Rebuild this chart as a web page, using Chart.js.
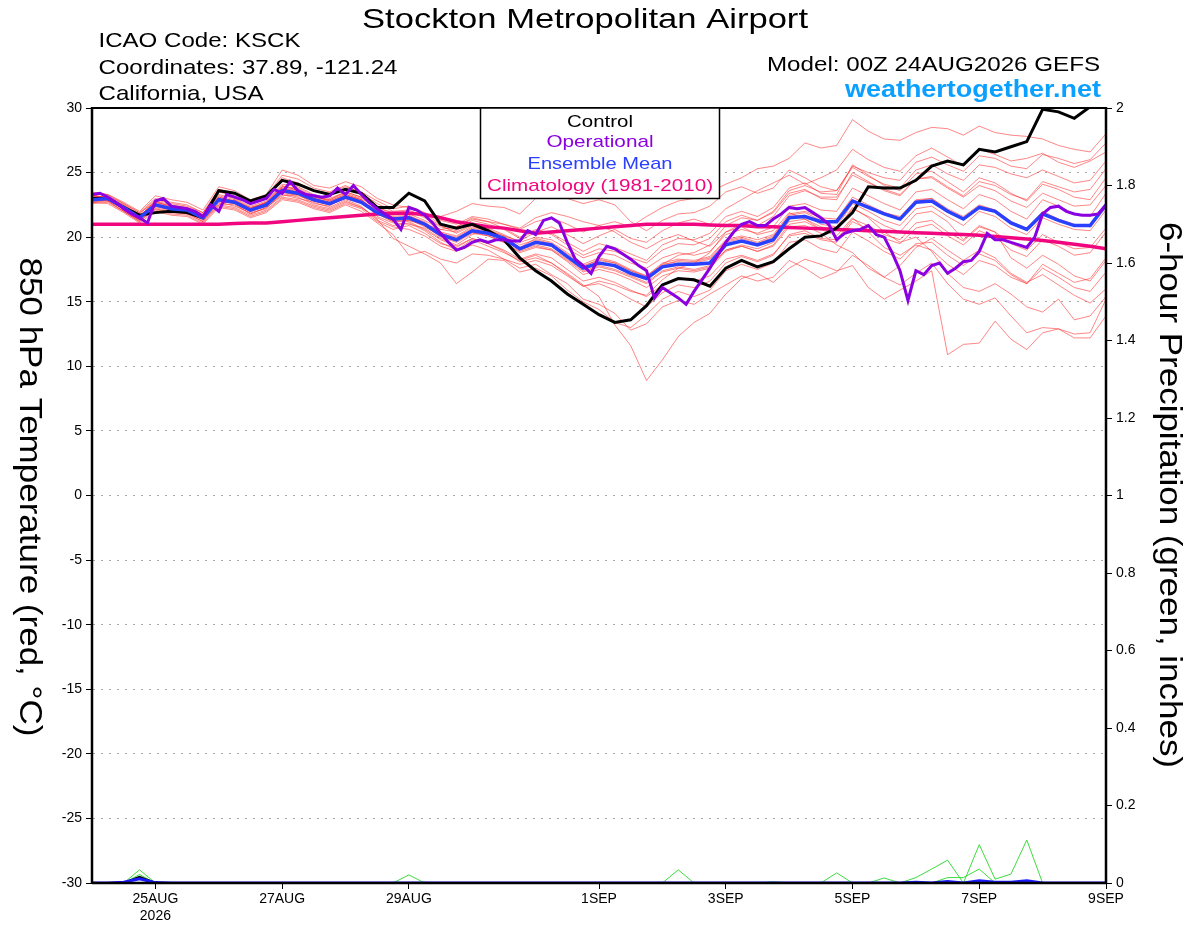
<!DOCTYPE html>
<html><head><meta charset="utf-8">
<script src="https://cdn.jsdelivr.net/npm/chart.js@4.4.1/dist/chart.umd.min.js"></script>
<style>html,body{margin:0;padding:0;background:#fff;}canvas{display:block;}</style>
</head><body>
<canvas id="c" width="1200" height="927"></canvas>
<script>
// ---- time axes (hours after 00Z 24AUG2026) ----
const hours6 = Array.from({length: 65}, (_, i) => i * 6);
const hours3 = Array.from({length: 129}, (_, i) => i * 3);
const xTickHours = [24, 72, 120, 192, 240, 288, 336, 384];
const xTickLabels = [['25AUG', '2026'], '27AUG', '29AUG', '1SEP', '3SEP', '5SEP', '7SEP', '9SEP'];

// ---- 850 hPa temperature (C), 6-hourly ----
const control = [23.0,23.0,22.3,21.7,21.9,22.0,21.9,21.5,23.6,23.4,22.8,23.2,24.4,24.1,23.6,23.3,23.7,23.4,22.3,22.3,
  23.4,22.8,21.0,20.7,21.0,20.5,19.8,18.4,17.4,16.6,15.6,14.8,14.0,13.4,13.6,14.7,16.3,16.8,16.7,16.2,
  17.6,18.2,17.7,18.1,19.1,20.0,20.1,20.7,21.9,23.9,23.8,23.8,24.4,25.5,25.9,25.6,26.8,26.6,27.0,27.4,
  29.9,29.7,29.2,30.1,31.0];
const ensembleMean = [22.9,23.0,22.3,21.5,22.5,22.2,22.1,21.5,22.9,22.7,22.1,22.5,23.6,23.4,22.9,22.6,23.1,22.7,21.9,21.4,
  21.5,21.0,20.2,19.8,20.5,20.3,19.9,19.1,19.6,19.4,18.5,17.6,18.0,17.8,17.2,16.8,17.7,17.9,17.9,18.0,
  19.4,19.7,19.4,19.8,21.5,21.6,21.2,21.2,22.8,22.3,21.8,21.4,22.7,22.8,22.0,21.4,22.3,22.0,21.1,20.6,
  21.8,21.3,20.9,20.9,22.5];
const climatology = [21.0,21.0,21.0,21.0,21.0,21.0,21.0,21.0,
  21.0,21.05,21.1,21.1,21.2,21.3,21.4,21.5,
  21.6,21.7,21.8,21.85,21.85,21.75,21.5,21.2,
  21.0,20.8,20.7,20.5,20.3,20.4,20.5,20.6,
  20.7,20.8,20.9,21.0,21.0,21.0,21.0,20.95,
  20.9,20.9,20.8,20.8,20.75,20.7,20.65,20.6,
  20.55,20.5,20.45,20.4,20.35,20.3,20.25,20.2,
  20.15,20.05,19.95,19.85,19.75,19.6,19.45,19.3,
  19.1];
// operational, 3-hourly
const operational = [23.3,23.4,23.1,22.7,22.2,21.8,21.5,21.1,
  22.8,23.0,22.4,22.3,22.2,22.0,21.6,22.5,
  22.0,23.3,23.1,22.9,22.6,22.8,23.0,23.7,
  23.4,24.3,23.6,23.3,23.2,23.1,23.2,23.8,
  23.3,24.0,23.3,22.7,22.2,21.8,21.4,20.6,
  22.3,22.1,21.7,21.1,20.3,19.6,19.0,19.2,
  19.6,19.8,19.6,19.8,19.8,19.7,19.7,20.5,
  20.2,21.3,21.5,21.1,19.6,18.3,17.8,17.2,
  18.5,19.3,19.1,18.7,18.3,17.8,17.4,15.3,
  16.1,15.7,15.3,14.8,15.8,16.7,17.6,18.6,
  19.6,20.4,21.0,21.2,20.9,20.9,21.4,21.8,
  22.3,22.2,22.3,21.9,21.5,21.0,19.8,20.3,
  20.5,20.6,20.9,20.2,20.0,18.8,17.4,15.1,
  17.4,17.1,17.8,18.0,17.2,17.6,18.1,18.2,
  18.9,20.3,19.8,19.8,19.6,19.4,19.2,20.0,
  21.8,22.3,22.4,22.0,21.8,21.7,21.7,21.8,
  22.5];

// ensemble members (6-hourly)
const m01 = [23.2,23.1,22.5,21.8,22.9,22.6,22.4,21.9,23.5,23.2,22.6,23.0,24.6,24.2,23.6,23.4,23.9,23.5,22.8,22.2,22.4,
  21.9,21.3,21.0,21.6,21.4,21.0,20.6,21.2,21.5,21.0,20.4,20.9,21.2,20.8,21.6,22.3,22.8,23.0,23.5,24.1,
  24.6,25.3,25.5,26.1,27.3,26.9,27.1,29.1,28.2,27.6,27.5,28.1,28.5,28.4,27.9,28.6,28.1,27.9,27.8,27.6,27.1,26.8,26.6,28.0];
const m02 = [22.8,23.0,22.1,21.3,22.2,21.9,22.0,21.3,22.6,22.5,21.8,22.3,23.2,23.3,22.6,22.4,23.2,22.9,21.6,21.1,21.0,
  20.7,19.9,19.4,20.2,20.6,20.1,19.7,20.4,20.8,20.2,19.5,20.1,20.6,19.9,19.6,20.5,21.1,21.4,21.0,22.2,
  22.9,23.6,24.2,24.8,24.1,24.6,25.2,26.8,26.0,25.4,25.1,26.3,26.9,26.2,25.5,26.8,26.4,25.9,26.1,26.5,25.8,25.4,25.9,26.6];
const m03 = [22.7,22.9,22.4,21.6,22.3,22.0,21.9,21.2,22.7,22.4,21.9,22.2,23.4,23.1,22.5,22.2,22.8,22.3,21.5,20.9,21.1,
  20.5,19.6,19.0,19.8,19.3,18.8,18.2,18.6,18.0,17.2,16.3,15.4,13.2,11.6,8.9,10.5,12.3,13.4,14.1,15.6,
  16.8,17.2,16.5,17.6,18.3,17.9,17.4,17.8,16.1,15.2,15.9,16.6,17.4,10.9,11.7,11.8,13.5,12.1,11.3,12.6,12.9,12.5,12.6,15.2];
const m04 = [23.0,22.8,22.0,21.2,22.6,22.1,21.8,21.4,23.0,22.6,21.8,22.3,23.3,23.0,22.7,22.3,22.9,22.4,21.3,20.8,20.6,
  20.1,19.3,18.9,19.4,19.0,18.3,17.6,17.9,17.1,16.4,15.2,14.8,14.1,12.8,13.3,14.6,15.1,14.8,15.6,16.3,
  17.0,16.6,16.9,18.2,17.6,16.8,17.3,18.6,17.8,16.9,16.3,17.2,18.0,16.4,15.2,14.8,15.3,13.9,12.6,13.0,12.9,12.2,12.2,13.9];
const m05 = [23.1,23.2,22.6,21.9,22.7,22.4,22.3,21.8,23.2,22.9,22.3,22.7,23.9,23.7,23.1,22.9,23.4,23.0,22.2,21.7,21.8,
  21.3,20.6,20.4,21.0,20.7,20.2,19.6,20.0,19.8,19.1,18.4,18.8,18.6,18.0,17.6,18.4,18.8,18.6,18.9,20.2,
  20.6,20.3,20.8,22.4,22.6,22.1,22.0,23.8,23.2,22.6,22.1,23.5,23.7,22.9,22.2,23.3,22.9,22.0,21.4,22.9,22.4,21.8,21.6,23.4];
const m06 = [22.6,22.7,22.0,21.3,22.1,21.8,21.7,21.1,22.4,22.2,21.6,22.0,23.0,22.8,22.3,22.0,22.6,22.2,21.2,20.6,20.9,
  20.3,19.5,19.2,19.9,19.5,19.0,18.3,18.7,18.4,17.5,16.6,16.9,16.5,15.9,15.4,16.3,16.8,16.6,17.0,18.3,
  18.6,18.2,18.7,20.1,20.3,19.8,19.6,21.2,20.6,19.9,19.5,20.7,21.0,20.1,19.4,20.5,20.0,19.0,18.5,19.8,19.3,18.6,18.8,20.4];
const m07 = [23.5,23.3,22.7,22.0,23.2,22.9,22.7,22.1,23.9,23.6,22.9,23.3,25.2,24.8,24.0,23.8,24.3,23.9,23.0,22.5,22.3,
  21.8,21.0,20.8,21.5,21.2,20.7,20.0,20.6,20.3,19.6,18.9,19.5,19.2,18.7,18.2,19.4,19.9,19.8,20.3,21.6,
  22.0,21.6,22.3,23.8,24.2,23.4,23.3,25.6,24.8,24.0,23.6,24.9,25.1,24.3,23.5,24.6,24.2,23.4,22.8,24.1,23.7,23.1,22.9,24.6];
const m08 = [22.9,22.8,22.2,21.4,22.4,22.1,22.0,21.6,22.8,22.6,22.0,22.4,23.5,23.2,22.8,22.5,23.0,22.6,21.8,21.2,21.3,
  20.9,20.0,19.6,20.3,20.1,19.6,18.8,19.2,19.0,18.1,17.1,17.5,17.2,16.7,16.1,17.0,17.4,17.3,17.6,18.9,
  19.3,18.9,19.4,21.0,21.2,20.6,20.5,22.2,21.6,20.9,20.4,21.8,22.0,21.2,19.8,20.9,20.4,18.4,17.6,18.6,17.9,17.0,16.6,18.2];
const m09 = [23.3,23.0,22.3,21.6,22.8,22.3,22.1,21.7,22.5,22.9,22.2,22.7,24.0,23.6,23.2,22.8,23.3,22.9,22.0,21.5,21.6,
  21.2,20.3,20.0,20.7,20.4,20.0,19.2,19.9,19.6,18.8,17.9,18.4,18.1,17.5,17.0,18.0,18.3,18.2,18.5,19.8,
  20.1,19.8,20.2,21.8,22.0,21.5,21.4,23.1,22.5,21.9,21.6,22.9,23.0,22.2,21.6,22.5,22.1,21.2,20.7,22.0,21.4,21.0,20.8,22.6];
const m10 = [22.8,22.9,22.2,21.5,22.5,22.2,22.0,21.4,22.9,22.7,22.1,22.4,23.6,23.4,22.8,22.6,23.1,22.7,21.9,21.3,21.4,
  20.8,20.1,19.7,20.4,20.2,19.8,19.0,19.4,19.1,18.3,17.4,17.8,17.5,17.0,16.5,17.4,17.7,17.5,17.8,19.0,
  19.4,19.1,19.6,21.2,21.4,20.8,20.6,22.3,21.5,20.4,19.6,20.0,18.9,17.2,16.1,15.8,16.4,15.6,14.6,14.2,15.2,13.6,13.9,15.4];
const m11 = [23.0,23.1,22.4,21.7,22.6,22.3,22.2,21.6,23.1,22.8,22.3,22.6,23.7,23.5,23.0,22.7,23.2,22.8,22.1,21.6,21.7,
  21.1,20.4,20.1,20.8,20.5,20.1,19.4,19.8,19.5,18.7,17.8,18.2,18.0,17.4,17.0,17.9,18.1,18.0,18.3,19.6,
  19.9,19.5,20.0,21.7,21.9,21.3,21.3,22.9,22.4,21.9,21.5,22.8,23.0,22.1,21.5,22.4,22.1,21.2,20.6,21.9,21.4,20.9,20.9,22.5];
const m12 = [23.2,23.0,22.3,21.6,22.7,22.4,22.2,21.7,23.3,23.0,22.4,22.8,24.1,23.9,23.3,23.0,23.5,23.1,22.3,21.9,22.0,
  21.5,20.8,20.5,21.3,21.0,20.6,19.9,20.5,20.2,19.4,18.6,19.1,18.9,18.4,18.0,19.0,19.5,19.4,19.9,21.2,
  21.7,21.3,21.9,23.4,23.7,23.0,22.9,25.0,24.3,23.6,23.2,24.5,24.7,23.9,23.2,24.3,24.0,23.3,22.9,24.3,23.9,23.5,23.7,25.3];
const m13 = [23.4,23.3,22.6,21.9,23.0,22.7,22.5,21.9,23.7,23.4,22.7,23.1,24.8,24.5,23.8,23.5,24.0,23.4,22.6,22.0,22.1,
  21.6,20.9,20.3,20.9,20.5,19.9,19.0,19.6,19.3,18.5,17.7,18.3,18.0,17.4,16.9,17.8,18.2,18.1,18.4,19.7,
  20.0,19.6,20.1,21.6,21.7,21.0,20.8,22.6,22.0,21.3,20.9,22.2,22.4,21.6,20.9,22.0,21.6,20.7,20.2,21.5,21.0,20.6,20.5,22.1];
const m14 = [22.7,22.8,22.0,21.2,22.2,21.9,21.8,21.2,22.5,22.3,21.7,22.1,23.1,22.9,22.4,22.1,22.7,22.3,21.4,19.9,19.3,
  18.7,18.0,16.4,17.3,18.3,18.2,17.3,17.6,17.0,15.9,15.0,14.4,13.4,13.0,14.0,15.2,15.8,15.4,15.9,17.4,
  17.9,17.5,18.0,19.6,19.8,19.1,18.8,20.4,19.7,18.9,18.3,19.5,19.6,18.6,17.8,18.7,18.2,17.1,16.4,17.6,16.9,16.1,15.8,17.3];
const m15 = [22.9,23.1,22.5,21.7,22.6,22.2,22.1,21.5,22.9,22.8,22.2,22.6,23.8,23.6,23.1,22.8,23.3,22.9,21.9,21.3,21.3,
  21.0,20.6,20.8,21.4,21.2,21.0,20.7,21.5,21.9,21.6,21.2,20.9,20.4,19.6,19.1,19.8,20.2,19.7,19.3,20.4,
  20.8,20.2,20.5,21.9,21.4,20.6,20.1,21.5,20.4,19.2,18.6,19.4,19.0,17.9,17.1,18.2,17.8,16.9,16.4,17.9,17.2,16.5,16.8,18.4];
const m16 = [23.1,23.0,22.4,21.6,22.8,22.5,22.3,21.7,23.1,22.8,22.2,22.7,23.9,23.8,23.2,22.9,23.5,23.1,22.3,21.8,21.9,
  21.7,21.6,22.0,22.6,22.4,22.3,21.8,23.0,23.3,23.0,22.6,22.9,22.5,21.2,20.5,21.3,21.8,21.9,22.4,23.5,
  23.9,23.4,23.8,25.2,24.6,23.9,23.6,25.4,24.7,24.1,23.8,25.2,25.6,24.9,24.4,25.6,25.4,24.9,24.6,25.2,24.7,24.2,24.4,25.9];
const m17 = [22.7,22.6,21.9,21.1,22.0,21.7,21.6,21.0,22.3,22.1,21.5,21.9,22.9,22.7,22.2,21.9,22.5,22.0,21.1,20.2,18.6,
  18.9,18.3,18.0,18.7,18.6,18.3,17.9,18.2,17.8,17.0,16.2,16.4,15.9,15.2,14.6,15.7,16.3,16.1,16.6,18.0,
  18.5,18.1,18.6,20.2,20.5,19.9,19.8,21.4,20.9,20.2,19.8,21.1,21.3,20.4,19.7,20.8,20.4,19.5,19.0,20.2,19.6,19.1,19.2,20.7];
const m18 = [23.0,22.9,22.3,21.5,22.4,22.1,22.0,21.4,22.8,22.6,22.0,22.4,23.5,23.3,22.8,22.5,23.0,22.7,21.9,21.4,21.6,
  21.1,20.3,19.9,20.6,20.3,19.8,19.1,19.6,19.3,18.5,17.6,18.0,17.7,17.2,16.8,17.9,18.6,18.8,19.4,20.9,
  21.5,21.3,22.0,23.6,24.0,23.5,23.6,25.5,25.0,24.6,24.4,25.8,26.2,25.6,25.1,26.3,26.1,25.5,25.3,26.4,26.1,25.7,26.0,27.3];
const m19 = [23.2,23.1,22.3,21.5,22.5,22.3,22.2,21.6,23.0,22.8,22.2,22.6,23.8,23.5,23.0,22.7,23.2,22.8,22.0,21.5,21.5,
  21.0,20.2,19.8,20.4,20.1,19.6,18.9,19.3,19.0,18.2,17.3,17.7,17.4,16.9,16.4,17.3,17.6,17.4,17.7,19.0,
  19.3,18.9,19.3,20.8,20.9,20.3,19.4,18.8,17.6,16.9,17.8,19.2,19.9,19.0,18.2,19.0,18.4,17.2,16.5,17.1,16.3,15.5,14.9,16.0];
const m20 = [22.8,23.0,22.4,21.6,22.5,22.2,22.1,21.5,22.9,22.7,22.1,22.5,23.7,23.4,22.9,22.6,23.1,22.7,21.8,21.2,21.2,
  20.6,19.8,19.3,19.9,19.5,18.9,18.1,18.4,18.0,17.1,16.2,16.6,16.3,15.8,15.5,16.7,17.6,18.0,18.8,20.4,
  21.0,20.9,21.6,23.2,23.6,23.1,23.1,24.8,24.2,23.7,23.3,24.5,24.6,23.8,23.1,24.0,23.6,22.8,22.3,23.4,22.9,22.4,22.5,24.0];
const members = [m01,m02,m03,m04,m05,m06,m07,m08,m09,m10,m11,m12,m13,m14,m15,m16,m17,m18,m19,m20];

// ---- 6-hour precipitation (inches) ----
const precipA = [0,0,0,0.034,0,0,0,0, 0,0,0,0,0,0,0,0, 0,0,0,0,0,0,0,0, 0,0,0,0,0,0,0,0,
  0,0,0,0,0,0.034,0,0, 0,0,0,0,0,0,0,0, 0,0,0,0,0,0,0,0, 0.099,0.010,0.023,0.111,0,0,0,0, 0];
const precipB = [0,0,0,0.022,0,0,0,0, 0,0,0,0,0,0,0,0, 0,0,0,0,0.021,0,0,0, 0,0,0,0,0,0,0,0,
  0,0,0,0,0,0,0,0, 0,0,0,0,0,0,0,0.026, 0,0,0,0,0.014,0.036,0.059,0, 0,0,0,0,0,0,0,0, 0];
const precipC = [0,0,0,0,0,0,0,0, 0,0,0,0,0,0,0,0, 0,0,0,0,0,0.002,0,0, 0,0,0,0,0,0,0,0,
  0,0,0,0,0,0,0,0, 0,0,0,0.003,0,0,0,0, 0,0,0.013,0,0,0,0.014,0.014, 0.036,0,0,0,0,0,0,0, 0];
const precipControl = [0,0,0,0.016,0,0,0,0, 0,0,0,0,0,0,0,0, 0,0,0,0,0,0,0,0, 0,0,0,0,0,0,0,0,
  0,0,0,0,0,0,0,0, 0,0,0,0,0,0,0,0, 0,0,0,0,0,0,0,0, 0,0,0,0,0,0,0,0, 0];
const precipMean = [0,0,0.002,0.011,0.001,0,0,0, 0,0,0,0,0,0,0,0, 0,0,0,0,0,0,0,0, 0,0,0,0,0,0,0,0,
  0,0,0,0,0,0,0,0, 0,0,0,0,0,0,0,0, 0,0,0,0,0.002,0,0.004,0, 0.006,0.002,0.002,0.006,0,0,0,0, 0];
const precipMembers = [precipA, precipB, precipC];

const legendItems = ['Control', 'Operational', 'Ensemble Mean', 'Climatology (1981-2010)'];

// ---- styles ----
const FONT = "'Liberation Sans', Arial, Helvetica, sans-serif";
const COL = {control:'#000000', oper:'#8a00e0', mean:'#2a40ff', clim:'#f0067f', member:'rgba(255,45,45,0.68)', green:'#3ddc3d'};
const legendColors = [COL.control, COL.oper, COL.mean, COL.clim];

const pts = (arr, hrs) => arr.map((v, i) => ({x: hrs[i], y: v}));

const datasets = [];
members.forEach((m, k) => datasets.push({label: 'member' + (k + 1), data: pts(m, hours6), borderColor: COL.member, borderWidth: 0.85, yAxisID: 'y', order: 10}));
precipMembers.forEach((p, k) => datasets.push({label: 'precip' + k, data: pts(p, hours6), borderColor: COL.green, borderWidth: 1, yAxisID: 'y2', order: 9}));
datasets.push({label: 'precipControl', data: pts(precipControl, hours6), borderColor: '#000', borderWidth: 2, yAxisID: 'y2', order: 8});
datasets.push({label: 'precipMean', data: pts(precipMean, hours6), borderColor: '#1a1aff', borderWidth: 3, yAxisID: 'y2', order: 7});
datasets.push({label: 'Climatology', data: pts(climatology, hours6), borderColor: COL.clim, borderWidth: 3.5, yAxisID: 'y', order: 5});
datasets.push({label: 'Control', data: pts(control, hours6), borderColor: COL.control, borderWidth: 3, yAxisID: 'y', order: 4});
datasets.push({label: 'Ensemble Mean', data: pts(ensembleMean, hours6), borderColor: COL.mean, borderWidth: 3.5, yAxisID: 'y', order: 3});
datasets.push({label: 'Operational', data: pts(operational, hours3), borderColor: COL.oper, borderWidth: 3, yAxisID: 'y', order: 2});

function fitText(ctx, text, x, y, font, color, align, width, rot) {
  ctx.save();
  ctx.font = font; ctx.fillStyle = color; ctx.textAlign = 'left'; ctx.textBaseline = 'alphabetic';
  const w = ctx.measureText(text).width;
  const s = width ? width / w : 1;
  const tw = w * s;
  ctx.translate(x, y);
  if (rot) ctx.rotate(rot);
  const x0 = align === 'center' ? -tw / 2 : (align === 'right' ? -tw : 0);
  ctx.translate(x0, 0);
  ctx.scale(s, 1);
  ctx.fillText(text, 0, 0);
  ctx.restore();
}

const decor = {
  id: 'decor',
  beforeDraw(c) {
    const ctx = c.ctx; ctx.save(); ctx.fillStyle = '#fff'; ctx.fillRect(0, 0, c.width, c.height); ctx.restore();
  },
  afterDatasetsDraw(c) {
    const ctx = c.ctx, a = c.chartArea;
    ctx.save();
    ctx.strokeStyle = '#000';
    ctx.lineWidth = 2; ctx.beginPath(); ctx.moveTo(a.left, a.top); ctx.lineTo(a.right, a.top); ctx.stroke();
    ctx.lineWidth = 2.5; ctx.beginPath(); ctx.moveTo(a.left, a.top - 1); ctx.lineTo(a.left, a.bottom); ctx.stroke();
    ctx.beginPath(); ctx.moveTo(a.right, a.top - 1); ctx.lineTo(a.right, a.bottom); ctx.stroke();
    ctx.lineWidth = 2.5; ctx.beginPath(); ctx.moveTo(a.left, a.bottom); ctx.lineTo(a.right, a.bottom); ctx.stroke();
    // legend box
    const bx = 480.5, by = a.top, bw = 239, bh = 90.5;
    ctx.fillStyle = '#fff'; ctx.fillRect(bx, by, bw, bh);
    ctx.lineWidth = 1.5; ctx.strokeRect(bx, by, bw, bh);
    ctx.restore();
    const base = [126.5, 147, 168.5, 191];
    const widths = [66, 107, 145, 226];
    legendItems.forEach((t, i) => fitText(ctx, t, 600, base[i], '17px ' + FONT, legendColors[i], 'center', widths[i]));
  },
  afterDraw(c) {
    const ctx = c.ctx;
    fitText(ctx, 'Stockton Metropolitan Airport', 362, 28, '28px ' + FONT, '#000', 'left', 446);
    fitText(ctx, 'ICAO Code: KSCK', 98.5, 47, '21px ' + FONT, '#000', 'left', 202);
    fitText(ctx, 'Coordinates: 37.89, -121.24', 98.5, 74, '21px ' + FONT, '#000', 'left', 299);
    fitText(ctx, 'California, USA', 98.5, 100, '21px ' + FONT, '#000', 'left', 165);
    fitText(ctx, 'Model: 00Z 24AUG2026 GEFS', 1100, 71, '21px ' + FONT, '#000', 'right', 333);
    fitText(ctx, 'weathertogether.net', 1101, 97, 'bold 23px ' + FONT, '#0aa0ff', 'right', 256);
    fitText(ctx, '850 hPa Temperature (red, \u00B0C)', 20, 497, '32px ' + FONT, '#000', 'center', 479, Math.PI / 2);
    fitText(ctx, '6-hour Precipitation (green, inches)', 1160, 495, '31px ' + FONT, '#000', 'center', 546, Math.PI / 2);
  }
};

new Chart(document.getElementById('c'), {
  type: 'line',
  data: {datasets},
  options: {
    responsive: false, animation: false, devicePixelRatio: 1,
    layout: {padding: {top: 108, left: 0, right: 0, bottom: 0}},
    plugins: {legend: {display: false}, tooltip: {enabled: false}, title: {display: false}},
    elements: {point: {radius: 0}, line: {tension: 0, fill: false}},
    scales: {
      x: {
        type: 'linear', min: 0, max: 384,
        afterBuildTicks: s => { s.ticks = xTickHours.map(v => ({value: v})); },
        afterFit: s => { s.height = 44; },
        ticks: {autoSkip: false, maxRotation: 0, minRotation: 0, padding: 2, color: '#000',
          font: {family: FONT, size: 14}, callback: (v, i) => xTickLabels[i]},
        grid: {drawOnChartArea: false, drawTicks: true, tickLength: 6, tickColor: '#000', tickWidth: 1},
        border: {display: true, color: '#000', width: 2}
      },
      y: {
        position: 'left', min: -30, max: 30,
        afterFit: s => { s.width = 92; },
        ticks: {stepSize: 5, padding: 4, color: '#000', font: {family: FONT, size: 14}, callback: v => String(v)},
        grid: {color: '#a8a8a8', lineWidth: 1, drawTicks: true, tickLength: 6, tickColor: '#000', tickWidth: 1, tickBorderDash: []},
        border: {display: true, color: '#000', width: 2, dash: [2, 6]}
      },
      y2: {
        position: 'right', min: 0, max: 2,
        afterFit: s => { s.width = 94; },
        ticks: {stepSize: 0.2, padding: 4, color: '#000', font: {family: FONT, size: 14}, callback: v => String(Math.round(v * 10) / 10)},
        grid: {drawOnChartArea: false, drawTicks: true, tickLength: 6, tickColor: '#000', tickWidth: 1},
        border: {display: true, color: '#000', width: 2}
      }
    }
  },
  plugins: [decor]
});
</script>
</body></html>
